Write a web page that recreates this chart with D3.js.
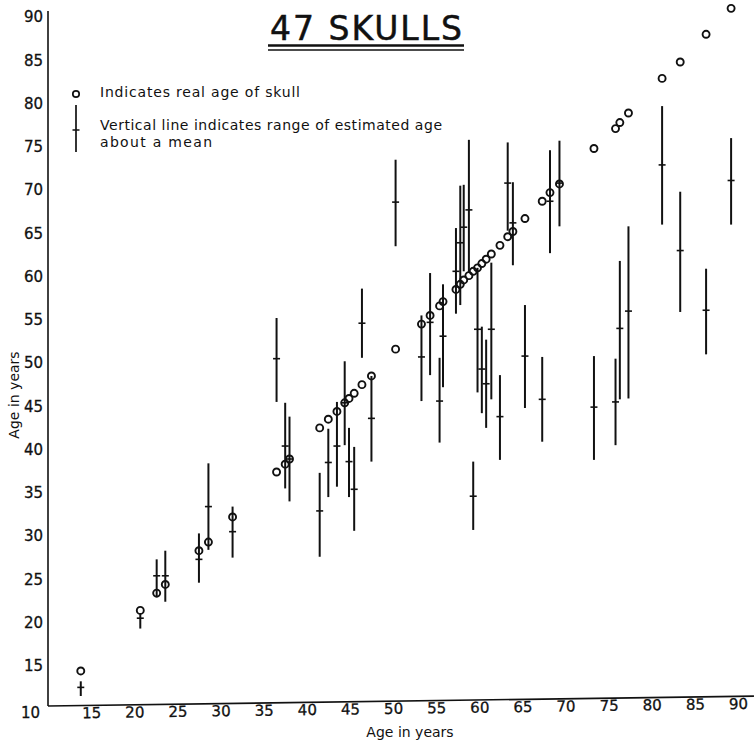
<!DOCTYPE html>
<html>
<head>
<meta charset="utf-8">
<script src="https://cdn.jsdelivr.net/npm/d3@7"></script>
<style>
  body { margin: 0; background: #fff; }
  text { font-family: "DejaVu Sans", sans-serif; fill: #111; }
</style>
</head>
<body>
<div id="chart"></div>
<script>
// age of each skull, read along the horizontal axis
const skullAge = [13.8, 20.7, 22.6, 23.6, 27.5, 28.6, 31.4, 36.5, 37.5, 38.0,
  41.5, 42.5, 43.5, 44.4, 44.9, 45.5, 46.4, 47.5, 50.3, 53.3,
  54.3, 55.4, 55.8, 57.3, 57.8, 58.2, 58.8, 59.3, 59.8, 60.3,
  60.8, 61.4, 62.4, 63.3, 63.9, 65.3, 67.3, 68.2, 69.3, 73.3,
  75.8, 76.3, 77.3, 81.2, 83.3, 86.3, 89.2];
// real age circles, as plotted against the vertical axis (hand drawn, sits a bit high)
const realAgeMark = [14.4, 21.4, 23.4, 24.4, 28.3, 29.3, 32.2, 37.4, 38.3, 38.9,
  42.5, 43.5, 44.4, 45.4, 45.9, 46.5, 47.5, 48.5, 51.6, 54.5,
  55.5, 56.6, 57.1, 58.5, 59.1, 59.6, 60.1, 60.6, 61.0, 61.5,
  62.0, 62.6, 63.6, 64.6, 65.2, 66.7, 68.7, 69.7, 70.7, 74.8,
  77.1, 77.8, 78.9, 82.9, 84.8, 88.0, 91.0];
// estimated age: mean and range
const estMean = [12.5, 20.5, 25.4, 25.4, 27.3, 33.4, 30.5, 50.5, 40.4, 38.9,
  32.9, 38.5, 40.4, 45.4, 38.6, 35.4, 54.6, 43.6, 68.6, 50.7,
  54.7, 45.6, 53.1, 60.6, 63.9, 65.7, 67.7, 34.6, 53.9, 49.3,
  47.6, 53.9, 43.8, 70.8, 66.2, 50.8, 45.8, 68.7, 70.8, 44.9,
  45.5, 54.0, 56.0, 72.9, 63.0, 56.1, 71.1];
const estLow = [11.5, 19.3, 22.9, 22.4, 24.6, 28.4, 27.5, 45.5, 35.5, 34.0,
  27.6, 34.5, 35.7, 40.5, 34.5, 30.6, 50.6, 38.6, 63.5, 45.6,
  48.6, 40.8, 47.2, 55.7, 56.7, 60.6, 60.5, 30.7, 46.6, 44.2,
  42.5, 45.8, 38.8, 65.3, 61.3, 44.8, 40.9, 62.7, 65.8, 38.8,
  40.5, 45.8, 45.9, 66.0, 55.9, 51.0, 66.0];
const estHigh = [13.2, 21.0, 27.3, 28.3, 30.3, 38.4, 33.4, 55.2, 45.4, 43.8,
  37.3, 42.4, 45.5, 50.2, 42.5, 40.3, 58.6, 48.5, 73.5, 55.5,
  60.4, 50.6, 59.1, 65.6, 70.5, 70.6, 75.8, 38.6, 61.0, 54.2,
  52.7, 61.6, 48.6, 75.5, 70.9, 56.7, 50.7, 74.6, 75.7, 50.8,
  50.5, 61.8, 65.8, 79.7, 69.8, 60.9, 76.0];
const ageTicks = [10, 15, 20, 25, 30, 35, 40, 45, 50, 55, 60, 65, 70, 75, 80, 85, 90];

(function () {

  const svg_width = 754, svg_height = 741;

  const data = skullAge.map((a, i) => ({
    age: a, real: realAgeMark[i], mean: estMean[i], low: estLow[i], high: estHigh[i]
  }));

  const x = d3.scaleLinear().domain([10, 90]).range([48, 738]);
  const y = d3.scaleLinear().domain([10, 90]).range([709, 17]);

  const svg = d3.select("#chart").append("svg")
    .attr("width", svg_width)
    .attr("height", svg_height);

  // title with double underline
  svg.append("text")
    .attr("x", 270).attr("y", 40)
    .attr("textLength", 192).attr("lengthAdjust", "spacing")
    .attr("stroke", "#111").attr("stroke-width", 0.5)
    .style("font-size", "33px")
    .text("47 SKULLS");
  svg.append("line").attr("x1", 268).attr("x2", 464).attr("y1", 45.5).attr("y2", 45.5)
    .attr("stroke", "#111").attr("stroke-width", 2.5);
  svg.append("line").attr("x1", 268).attr("x2", 464).attr("y1", 50).attr("y2", 50)
    .attr("stroke", "#111").attr("stroke-width", 1.3);

  // y axis
  const yAxis = svg.append("g")
    .attr("transform", "translate(48,0)")
    .call(d3.axisLeft(y).tickValues(ageTicks.slice(1)).tickSize(0).tickPadding(5));
  yAxis.select(".domain").remove();
  yAxis.selectAll("text").style("font-size", "15px").attr("fill", "#111")
    .attr("stroke", "#111").attr("stroke-width", 0.3);
  svg.append("line").attr("x1", 48).attr("x2", 48).attr("y1", 11).attr("y2", 706)
    .attr("stroke", "#111").attr("stroke-width", 1.6);
  svg.append("text")
    .attr("x", 40).attr("y", y(10) + 9)
    .attr("text-anchor", "end")
    .attr("stroke", "#111").attr("stroke-width", 0.3)
    .style("font-size", "15px")
    .text("10");

  // x axis (slightly tilted in the original)
  const xAxis = svg.append("g")
    .attr("transform", "translate(0,706) rotate(-0.8,48,0)")
    .call(d3.axisBottom(x).tickValues(ageTicks.slice(1)).tickSize(0).tickPadding(2));
  xAxis.select(".domain").remove();
  xAxis.selectAll("text").style("font-size", "15px").attr("fill", "#111")
    .attr("stroke", "#111").attr("stroke-width", 0.3);
  xAxis.append("line").attr("x1", 48).attr("x2", 754).attr("y1", 0).attr("y2", 0)
    .attr("stroke", "#111").attr("stroke-width", 1.6);

  svg.append("text")
    .attr("x", 410).attr("y", 737)
    .attr("text-anchor", "middle")
    .style("font-size", "14px")
    .text("Age in years");
  svg.append("text")
    .attr("transform", "translate(19,395) rotate(-90)")
    .attr("text-anchor", "middle")
    .style("font-size", "14px")
    .text("Age in years");

  // range lines with mean tick
  const marks = svg.append("g");
  marks.selectAll(".range")
    .data(data)
    .enter().append("line")
    .attr("class", "range")
    .attr("x1", d => x(d.age)).attr("x2", d => x(d.age))
    .attr("y1", d => y(d.low)).attr("y2", d => y(d.high))
    .attr("stroke", "#111").attr("stroke-width", 2);
  marks.selectAll(".mean")
    .data(data)
    .enter().append("line")
    .attr("class", "mean")
    .attr("x1", d => x(d.age) - 3.5).attr("x2", d => x(d.age) + 3.5)
    .attr("y1", d => y(d.mean)).attr("y2", d => y(d.mean))
    .attr("stroke", "#111").attr("stroke-width", 1.6);

  // real age circles
  marks.selectAll(".real")
    .data(data)
    .enter().append("circle")
    .attr("class", "real")
    .attr("cx", d => x(d.age))
    .attr("cy", d => y(d.real))
    .attr("r", 3.5)
    .attr("fill", "none")
    .attr("stroke", "#111")
    .attr("stroke-width", 1.9);

  // legend
  const legend = svg.append("g").attr("class", "legend");
  legend.append("circle").attr("cx", 76).attr("cy", 94).attr("r", 3.2)
    .attr("fill", "none").attr("stroke", "#111").attr("stroke-width", 1.7);
  legend.append("text").attr("x", 100).attr("y", 97).style("font-size", "14px")
    .attr("textLength", 200).attr("lengthAdjust", "spacing")
    .text("Indicates real age of skull");
  legend.append("line").attr("x1", 76).attr("x2", 76).attr("y1", 105).attr("y2", 152)
    .attr("stroke", "#111").attr("stroke-width", 1.7);
  legend.append("line").attr("x1", 72.5).attr("x2", 79.5).attr("y1", 130).attr("y2", 130)
    .attr("stroke", "#111").attr("stroke-width", 1.5);
  legend.append("text").attr("x", 100).attr("y", 130).style("font-size", "14px")
    .attr("textLength", 342).attr("lengthAdjust", "spacing")
    .text("Vertical line indicates range of estimated age");
  legend.append("text").attr("x", 100).attr("y", 147).style("font-size", "14px")
    .attr("textLength", 112).attr("lengthAdjust", "spacing")
    .text("about a mean");

})();
</script>
</body>
</html>
